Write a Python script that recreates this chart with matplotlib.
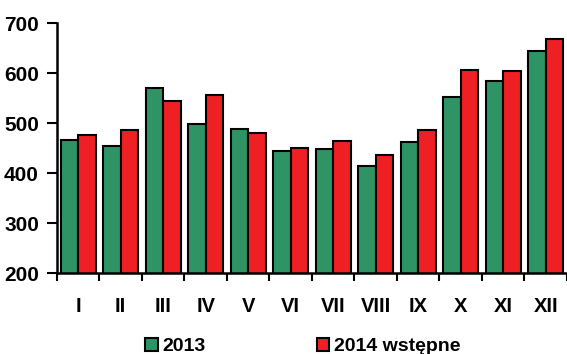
import numpy as np
import matplotlib
matplotlib.use("Agg")
import matplotlib.pyplot as plt

# monthly values
months = ["I", "II", "III", "IV", "V", "VI", "VII", "VIII", "IX", "X", "XI", "XII"]
y2013 = [467, 454, 571, 499, 488, 445, 448, 415, 463, 552, 584, 645]
y2014 = [477, 487, 545, 557, 480, 451, 464, 437, 487, 606, 604, 669]
series_names = ["2013", "2014 wstępne"]

green = "#2E9465"
red = "#EE2024"

plt.rcParams["font.family"] = ["Liberation Sans", "DejaVu Sans"]
plt.rcParams["font.weight"] = "bold"

fig = plt.figure(figsize=(5.67, 3.54), dpi=100)
ax = fig.add_axes([0.1005, 0.2288, 0.8995, 0.7062])

x = np.arange(len(months))
w = 0.41
ax.bar(x + 0.5 - w / 2, y2013, width=w, color=green, edgecolor="black",
       linewidth=1.5, label=series_names[0], zorder=2)
ax.bar(x + 0.5 + w / 2, y2014, width=w, color=red, edgecolor="black",
       linewidth=1.5, label=series_names[1], zorder=2)

ax.set_ylim(200, 700)
ax.set_yticks([200, 300, 400, 500, 600, 700])
ax.set_xlim(0, 12)
ax.set_xticks(np.arange(0, 13))
ax.set_xticklabels([])
ax.set_xticks(x + 0.5, minor=True)
ax.set_xticklabels(months, minor=True)

ax.tick_params(axis="y", which="major", length=7, width=1.5, labelsize=15, pad=6)
ax.tick_params(axis="x", which="major", length=6, width=1.5)
ax.tick_params(axis="x", which="minor", length=0, labelsize=14.5, pad=17)
for lab in ax.get_yticklabels() + ax.get_xticklabels(minor=True):
    lab.set_fontweight("bold")

for side in ["top", "right"]:
    ax.spines[side].set_visible(False)
for side in ["left", "bottom"]:
    ax.spines[side].set_linewidth(1.8)

leg = fig.legend(loc="center", bbox_to_anchor=(0.534, 0.022), ncol=2,
                 frameon=False, prop={"weight": "bold", "size": 14},
                 handlelength=0.65, handleheight=0.65, handletextpad=0.25,
                 columnspacing=5.7)

fig.savefig("out.png", dpi=100)
